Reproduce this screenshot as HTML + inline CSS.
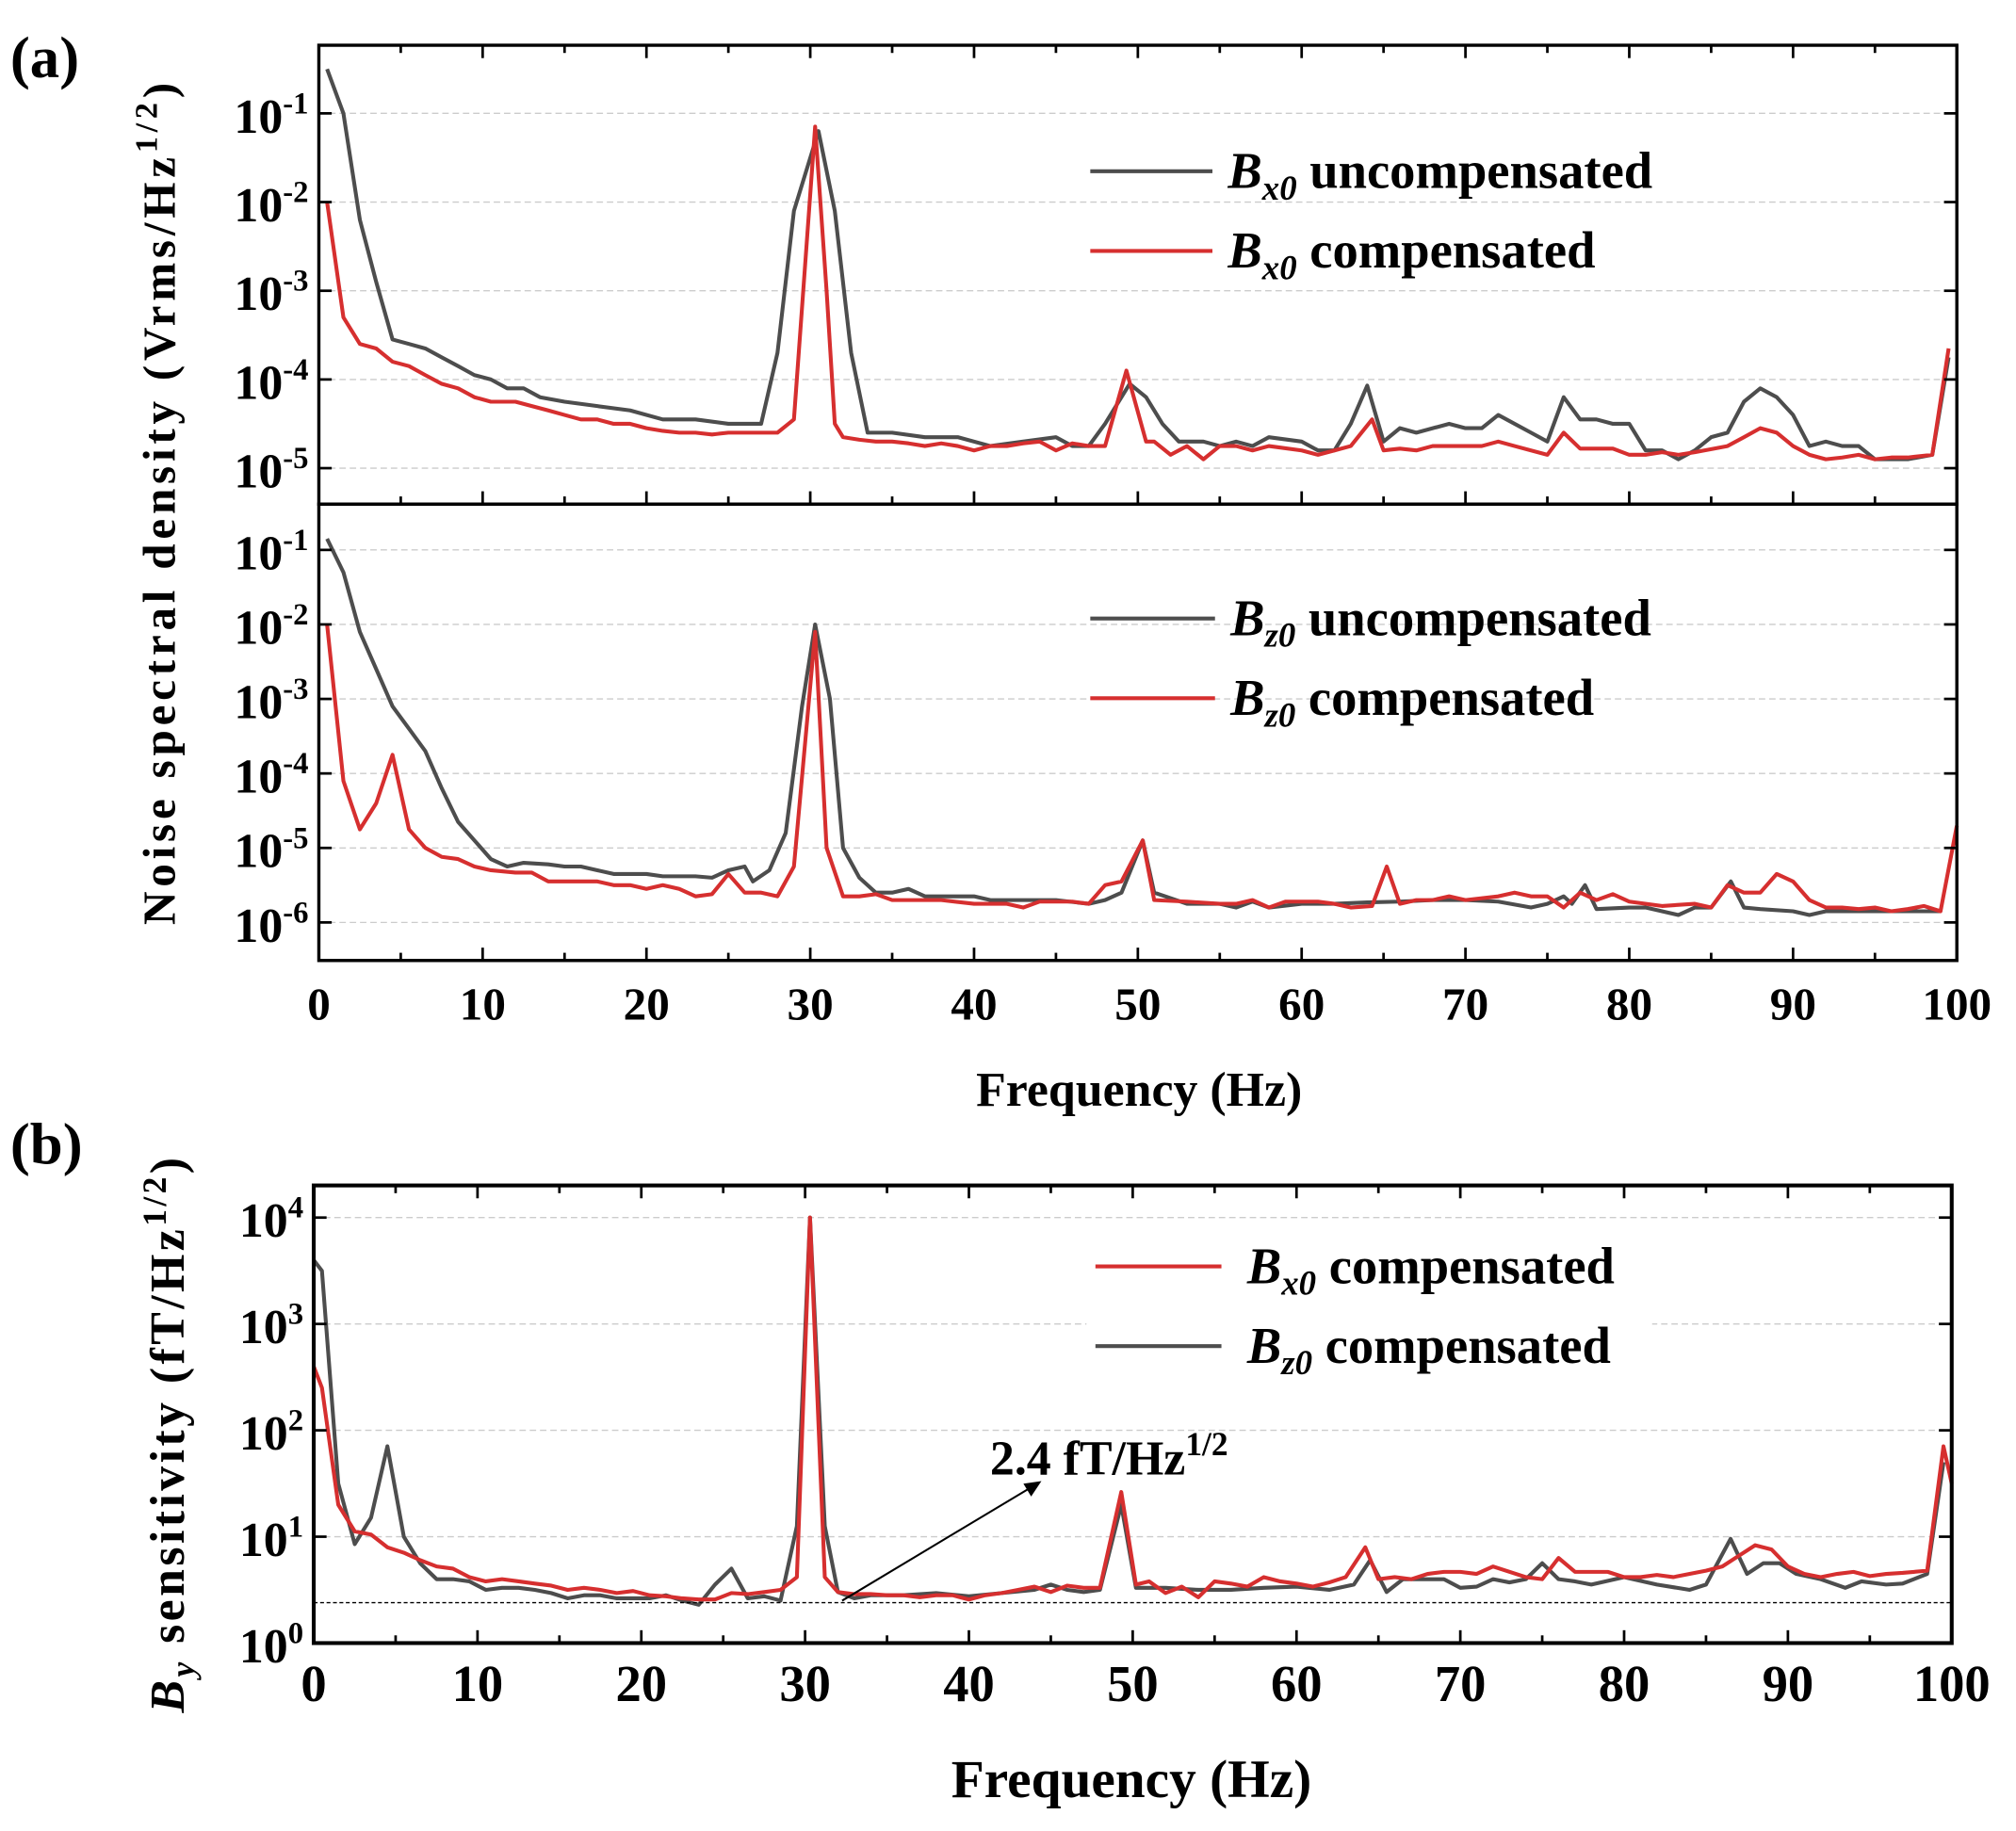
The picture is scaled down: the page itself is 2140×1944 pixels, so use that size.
<!DOCTYPE html>
<html><head><meta charset="utf-8"><style>
html,body{margin:0;padding:0;background:#fff}
svg{display:block}
text{font-family:"Liberation Serif",serif;font-weight:bold;fill:#000}
</style></head><body>
<svg id="s" width="2140" height="1944" viewBox="0 0 1568 1424" xmlns="http://www.w3.org/2000/svg">
<rect width="1568" height="1424" fill="#fff"/>
<g id="g"></g>
<text x="8" y="60" font-size="46">(a)</text>
<text x="8" y="905" font-size="46">(b)</text>
<text x="886" y="860" font-size="38" text-anchor="middle">Frequency (Hz)</text>
<text x="880" y="1398" font-size="42" text-anchor="middle">Frequency (Hz)</text>
<text transform="translate(136,390) rotate(-90)" font-size="36" letter-spacing="3.5" text-anchor="middle">Noise spectral density  (Vrms/Hz<tspan dy="-14" font-size="25">1/2</tspan><tspan dy="14">)</tspan></text>
<text transform="translate(143,1115) rotate(-90)" font-size="38" letter-spacing="2.5" text-anchor="middle"><tspan font-style="italic">B</tspan><tspan font-style="italic" font-size="26" dy="8">y</tspan><tspan dy="-8"> sensitivity (fT/Hz</tspan><tspan dy="-14" font-size="26">1/2</tspan><tspan dy="14">)</tspan></text>
<line x1="848" y1="133" x2="943" y2="133" stroke="#4d4d4d" stroke-width="3"/>
<text x="955" y="146" font-size="40"><tspan font-style="italic">B</tspan><tspan font-style="italic" font-size="27" dy="9">x0</tspan><tspan dy="-9"> uncompensated</tspan></text>
<line x1="848" y1="195" x2="943" y2="195" stroke="#d62f2f" stroke-width="3"/>
<text x="955" y="208" font-size="40"><tspan font-style="italic">B</tspan><tspan font-style="italic" font-size="27" dy="9">x0</tspan><tspan dy="-9"> compensated</tspan></text>
<line x1="848" y1="481" x2="945" y2="481" stroke="#4d4d4d" stroke-width="3"/>
<text x="957" y="494" font-size="40"><tspan font-style="italic">B</tspan><tspan font-style="italic" font-size="27" dy="9">z0</tspan><tspan dy="-9"> uncompensated</tspan></text>
<line x1="848" y1="543" x2="945" y2="543" stroke="#d62f2f" stroke-width="3"/>
<text x="957" y="556" font-size="40"><tspan font-style="italic">B</tspan><tspan font-style="italic" font-size="27" dy="9">z0</tspan><tspan dy="-9"> compensated</tspan></text>
<rect x="845" y="955" width="440" height="110" fill="#fff"/>
<line x1="852" y1="985" x2="950" y2="985" stroke="#d62f2f" stroke-width="3"/>
<text x="970" y="998" font-size="40"><tspan font-style="italic">B</tspan><tspan font-style="italic" font-size="27" dy="9">x0</tspan><tspan dy="-9"> compensated</tspan></text>
<line x1="852" y1="1047" x2="950" y2="1047" stroke="#4d4d4d" stroke-width="3"/>
<text x="970" y="1060" font-size="40"><tspan font-style="italic">B</tspan><tspan font-style="italic" font-size="27" dy="9">z0</tspan><tspan dy="-9"> compensated</tspan></text>
<text x="770" y="1147" font-size="38">2.4 fT/Hz<tspan dy="-15" font-size="26">1/2</tspan></text>
<line x1="655" y1="1245" x2="800" y2="1158" stroke="#000" stroke-width="1.5"/>
<polygon points="810,1152 796,1154 802,1164" fill="#000"/>
</svg>
<script>
var NS="http://www.w3.org/2000/svg",G=document.getElementById('g');
function el(t,a,txt){var e=document.createElementNS(NS,t);for(var k in a)e.setAttribute(k,a[k]);if(txt!==undefined)e.innerHTML=txt;G.appendChild(e);return e;}
function P(s){var a=s.trim().split(/\s*,\s*/);return a.map(function(p){var q=p.split(':');return [+q[0],+q[1]];});}
function panel(o){
 var X=function(f){return o.x0+(o.x1-o.x0)*f/100;};
 var Y=function(l){return o.yTop+(o.topExp-l)*o.dec;};
 o.exps.forEach(function(e){el('line',{x1:o.x0,x2:o.x1,y1:Y(e),y2:Y(e),stroke:'#ccc','stroke-width':1,'stroke-dasharray':'5,3'});});
 o.series.forEach(function(s){var d=P(s.d).map(function(p,i){return (i?'L':'M')+X(p[0]).toFixed(1)+','+Y(p[1]).toFixed(1);}).join('');
  el('path',{d:d,fill:'none',stroke:s.c,'stroke-width':3,'stroke-linejoin':'round'});});
 for(var f=0;f<=100;f+=5){var L=f%10==0?10:6;
  if(o.bottom){el('line',{x1:X(f),x2:X(f),y1:o.yb,y2:o.yb-L,stroke:'#000','stroke-width':2});}
  if(o.topT){el('line',{x1:X(f),x2:X(f),y1:o.yt,y2:o.yt+L,stroke:'#000','stroke-width':2});}
 }
 o.exps.forEach(function(e){el('line',{x1:o.x0,x2:o.x0+10,y1:Y(e),y2:Y(e),stroke:'#000','stroke-width':2});el('line',{x1:o.x1,x2:o.x1-10,y1:Y(e),y2:Y(e),stroke:'#000','stroke-width':2});
  el('text',{x:o.x0-8,y:Y(e)+15,'font-size':38,'text-anchor':'end'},'10<tspan dy="-15" font-size="24">'+e+'</tspan>');});
 el('rect',{x:o.x0,y:o.yt,width:o.x1-o.x0,height:o.yb-o.yt,fill:'none',stroke:'#000','stroke-width':o.bw||2.5});
 if(o.labels){for(var f=0;f<=100;f+=10)el('text',{x:X(f),y:o.ly,'font-size':o.lf||36,'text-anchor':'middle'},f);}
 return {X:X,Y:Y};
}
var gray='#4d4d4d',red='#d62f2f';
panel({x0:248,x1:1522,yt:35,yb:392,yTop:88,topExp:-1,dec:69,exps:[-1,-2,-3,-4,-5],bottom:true,topT:true,series:[
{c:gray,d:"0.5:-0.5,1.5:-1.0,2.5:-2.2,3.5:-2.9,4.5:-3.55,5.5:-3.6,6.5:-3.65,7.5:-3.75,8.5:-3.85,9.5:-3.95,10.5:-4.0,11.5:-4.1,12.5:-4.1,13.5:-4.2,15:-4.25,17:-4.3,19:-4.35,21:-4.45,23:-4.45,25:-4.5,27:-4.5,28:-3.7,29:-2.1,30.5:-1.2,31.5:-2.1,32.5:-3.7,33.5:-4.6,35:-4.6,37:-4.65,39:-4.65,41:-4.75,43:-4.7,45:-4.65,46:-4.75,47:-4.75,48:-4.5,49.5:-4.05,50.5:-4.2,51.5:-4.5,52.5:-4.7,54:-4.7,55:-4.75,56:-4.7,57:-4.75,58:-4.65,60:-4.7,61:-4.8,62:-4.8,63:-4.5,64:-4.07,65:-4.7,66:-4.55,67:-4.6,69:-4.5,70:-4.55,71:-4.55,72:-4.4,73:-4.5,74:-4.6,75:-4.7,76:-4.2,77:-4.45,78:-4.45,79:-4.5,80:-4.5,81:-4.8,82:-4.8,83:-4.9,84:-4.8,85:-4.65,86:-4.6,87:-4.25,88:-4.1,89:-4.2,90:-4.4,91:-4.75,92:-4.7,93:-4.75,94:-4.75,95:-4.9,96:-4.9,97:-4.9,98.5:-4.85,99.5:-3.75"},
{c:red,d:"0.5:-2.0,1.5:-3.3,2.5:-3.6,3.5:-3.65,4.5:-3.8,5.5:-3.85,6.5:-3.95,7.5:-4.05,8.5:-4.1,9.5:-4.2,10.5:-4.25,12:-4.25,13:-4.3,14:-4.35,15:-4.4,16:-4.45,17:-4.45,18:-4.5,19:-4.5,20:-4.55,21:-4.58,22:-4.6,23:-4.6,24:-4.62,25:-4.6,26:-4.6,27:-4.6,28:-4.6,29:-4.45,30.3:-1.15,31:-3.0,31.5:-4.5,32:-4.65,33:-4.68,34:-4.7,35:-4.7,36:-4.72,37:-4.75,38:-4.72,39:-4.75,40:-4.8,41:-4.75,42:-4.75,43:-4.72,44:-4.7,45:-4.8,46:-4.72,47:-4.75,48:-4.75,49.3:-3.9,50.5:-4.7,51:-4.7,52:-4.85,53:-4.75,54:-4.9,55:-4.75,56:-4.75,57:-4.8,58:-4.75,60:-4.8,61:-4.85,62:-4.8,63:-4.75,64.3:-4.45,65:-4.8,66:-4.78,67:-4.8,68:-4.75,70:-4.75,71:-4.75,72:-4.7,73:-4.75,75:-4.85,76:-4.6,77:-4.78,78:-4.78,79:-4.78,80:-4.85,81:-4.85,82:-4.82,83:-4.85,84:-4.82,86:-4.75,87:-4.65,88:-4.55,89:-4.6,90:-4.75,91:-4.85,92:-4.9,93:-4.88,94:-4.85,95:-4.9,96:-4.88,97:-4.88,98.5:-4.85,99.5:-3.65"}]});
panel({x0:248,x1:1522,yt:392,yb:747,yTop:427.6,topExp:-1,dec:57.96,exps:[-1,-2,-3,-4,-5,-6],bottom:true,topT:false,labels:true,ly:793,lf:36,series:[
{c:gray,d:"0.5:-0.85,1.5:-1.3,2.5:-2.1,3.5:-2.6,4.5:-3.1,5.5:-3.4,6.5:-3.7,7.5:-4.2,8.5:-4.65,9.5:-4.9,10.5:-5.15,11.5:-5.25,12.5:-5.2,14:-5.22,15:-5.25,16:-5.25,17:-5.3,18:-5.35,19:-5.35,20:-5.35,21:-5.38,22:-5.38,23:-5.38,24:-5.4,25:-5.3,26:-5.25,26.5:-5.45,27.5:-5.3,28.5:-4.8,29.5:-3.1,30.3:-2.0,31.2:-3.0,32:-5.0,33:-5.4,34:-5.6,35:-5.6,36:-5.55,37:-5.65,38:-5.65,40:-5.65,41:-5.7,43:-5.7,45:-5.7,47:-5.75,48:-5.7,49:-5.6,50.3:-4.9,51:-5.6,53:-5.75,55:-5.75,56:-5.8,57:-5.72,58:-5.8,60:-5.75,62:-5.75,64:-5.73,66:-5.72,68:-5.7,70:-5.7,72:-5.72,74:-5.8,75:-5.75,76:-5.65,76.5:-5.75,77.3:-5.5,78:-5.82,80:-5.8,81:-5.8,82:-5.85,83:-5.9,84:-5.8,85:-5.8,86.2:-5.45,87:-5.8,88:-5.82,90:-5.85,91:-5.9,92:-5.85,93:-5.85,95:-5.85,97:-5.85,99:-5.85"},
{c:red,d:"0.5:-2.0,1.5:-4.1,2.5:-4.75,3.5:-4.4,4.5:-3.75,5.5:-4.75,6.5:-5.0,7.5:-5.12,8.5:-5.15,9.5:-5.25,10.5:-5.3,12:-5.33,13:-5.33,14:-5.45,15:-5.45,17:-5.45,18:-5.5,19:-5.5,20:-5.55,21:-5.5,22:-5.55,23:-5.65,24:-5.62,25:-5.35,26:-5.6,27:-5.6,28:-5.65,29:-5.25,30.3:-2.1,31:-5.0,32:-5.65,33:-5.65,34:-5.62,35:-5.7,36:-5.7,38:-5.7,40:-5.75,42:-5.75,43:-5.8,44:-5.72,46:-5.72,47:-5.75,48:-5.5,49:-5.45,50.3:-4.9,51:-5.7,53:-5.72,55:-5.75,56:-5.75,57:-5.7,58:-5.8,59:-5.72,61:-5.72,62:-5.75,63:-5.8,64.3:-5.78,65.2:-5.25,66:-5.75,67:-5.7,68:-5.7,69:-5.65,70:-5.7,72:-5.65,73:-5.6,74:-5.65,75:-5.65,76:-5.8,77:-5.6,78:-5.7,79:-5.62,80:-5.72,82:-5.78,84:-5.75,85:-5.8,86:-5.5,87:-5.6,88:-5.6,89:-5.35,90:-5.45,91:-5.7,92:-5.8,93:-5.8,94:-5.82,95:-5.8,96:-5.85,97:-5.82,98:-5.78,99:-5.85,100:-4.7"}]});
var b=panel({x0:244,x1:1518,yt:922,yb:1278,yTop:947,topExp:4,dec:82.75,exps:[4,3,2,1,0],bottom:true,topT:true,labels:true,ly:1323,lf:40,bw:3,series:[
{c:gray,d:"0:3.6,0.5:3.5,1.5:1.5,2.5:0.93,3.5:1.18,4.5:1.85,5.5:1.0,6.5:0.75,7.5:0.6,8.5:0.6,9.5:0.58,10.5:0.5,11.5:0.52,12.5:0.52,13.5:0.5,14.5:0.47,15.5:0.42,16.5:0.45,17.5:0.45,18.5:0.42,19.5:0.42,20.5:0.42,21.5:0.45,22.5:0.4,23.5:0.36,24.5:0.55,25.5:0.7,26.5:0.42,27.5:0.44,28.5:0.4,29.5:1.1,30.3:4.0,31.2:1.1,32:0.48,33:0.42,34:0.45,36:0.45,38:0.47,40:0.44,42:0.47,44:0.5,45:0.55,46:0.5,47:0.48,48:0.5,49.3:1.3,50.2:0.52,52:0.52,54:0.5,56:0.5,58:0.52,60:0.53,62:0.5,63.5:0.55,64.5:0.78,65.5:0.48,66.5:0.6,68:0.6,69:0.6,70:0.52,71:0.53,72:0.6,73:0.57,74:0.6,75:0.75,76:0.6,77:0.58,78:0.55,80:0.62,82:0.55,84:0.5,85:0.55,86.5:0.98,87.5:0.65,88.5:0.75,89.5:0.75,90.5:0.65,92:0.6,93.5:0.52,94.5:0.58,96:0.55,97:0.56,98.5:0.65,99.5:1.7"},
{c:red,d:"0:2.6,0.5:2.4,1.5:1.3,2.5:1.05,3.5:1.02,4.5:0.9,5.5:0.85,6.5:0.78,7.5:0.72,8.5:0.7,9.5:0.62,10.5:0.58,11.5:0.6,12.5:0.58,13.5:0.56,14.5:0.54,15.5:0.5,16.5:0.52,17.5:0.5,18.5:0.47,19.5:0.49,20.5:0.45,21.5:0.44,22.5:0.42,23.5:0.41,24.5:0.41,25.5:0.47,26.5:0.46,27.5:0.48,28.5:0.5,29.5:0.62,30.3:4.0,31.2:0.62,32:0.48,33:0.46,34:0.46,35:0.45,36:0.45,37:0.43,38:0.45,39:0.45,40:0.41,41:0.45,42:0.47,43:0.5,44:0.53,45:0.48,46:0.54,47:0.52,48:0.52,49.3:1.42,50.2:0.55,51:0.58,52:0.47,53:0.53,54:0.43,55:0.58,56:0.56,57:0.53,58:0.62,59:0.58,60:0.56,61:0.53,62:0.57,63:0.62,64.2:0.9,65:0.6,66:0.62,67:0.6,68:0.65,69:0.67,70:0.67,71:0.65,72:0.72,73:0.67,74:0.62,75:0.6,76:0.8,77:0.67,78:0.67,79:0.67,80:0.62,81:0.62,82:0.64,83:0.62,84:0.65,85:0.68,86:0.72,87:0.82,88:0.92,89:0.88,90:0.72,91:0.65,92:0.62,93:0.65,94:0.67,95:0.63,96:0.65,97:0.66,98.5:0.68,99.5:1.85,100:1.5"}]});
el('line',{x1:244,x2:1518,y1:b.Y(0.38),y2:b.Y(0.38),stroke:'#000','stroke-width':1,'stroke-dasharray':'3,2'});
</script>
</body></html>
